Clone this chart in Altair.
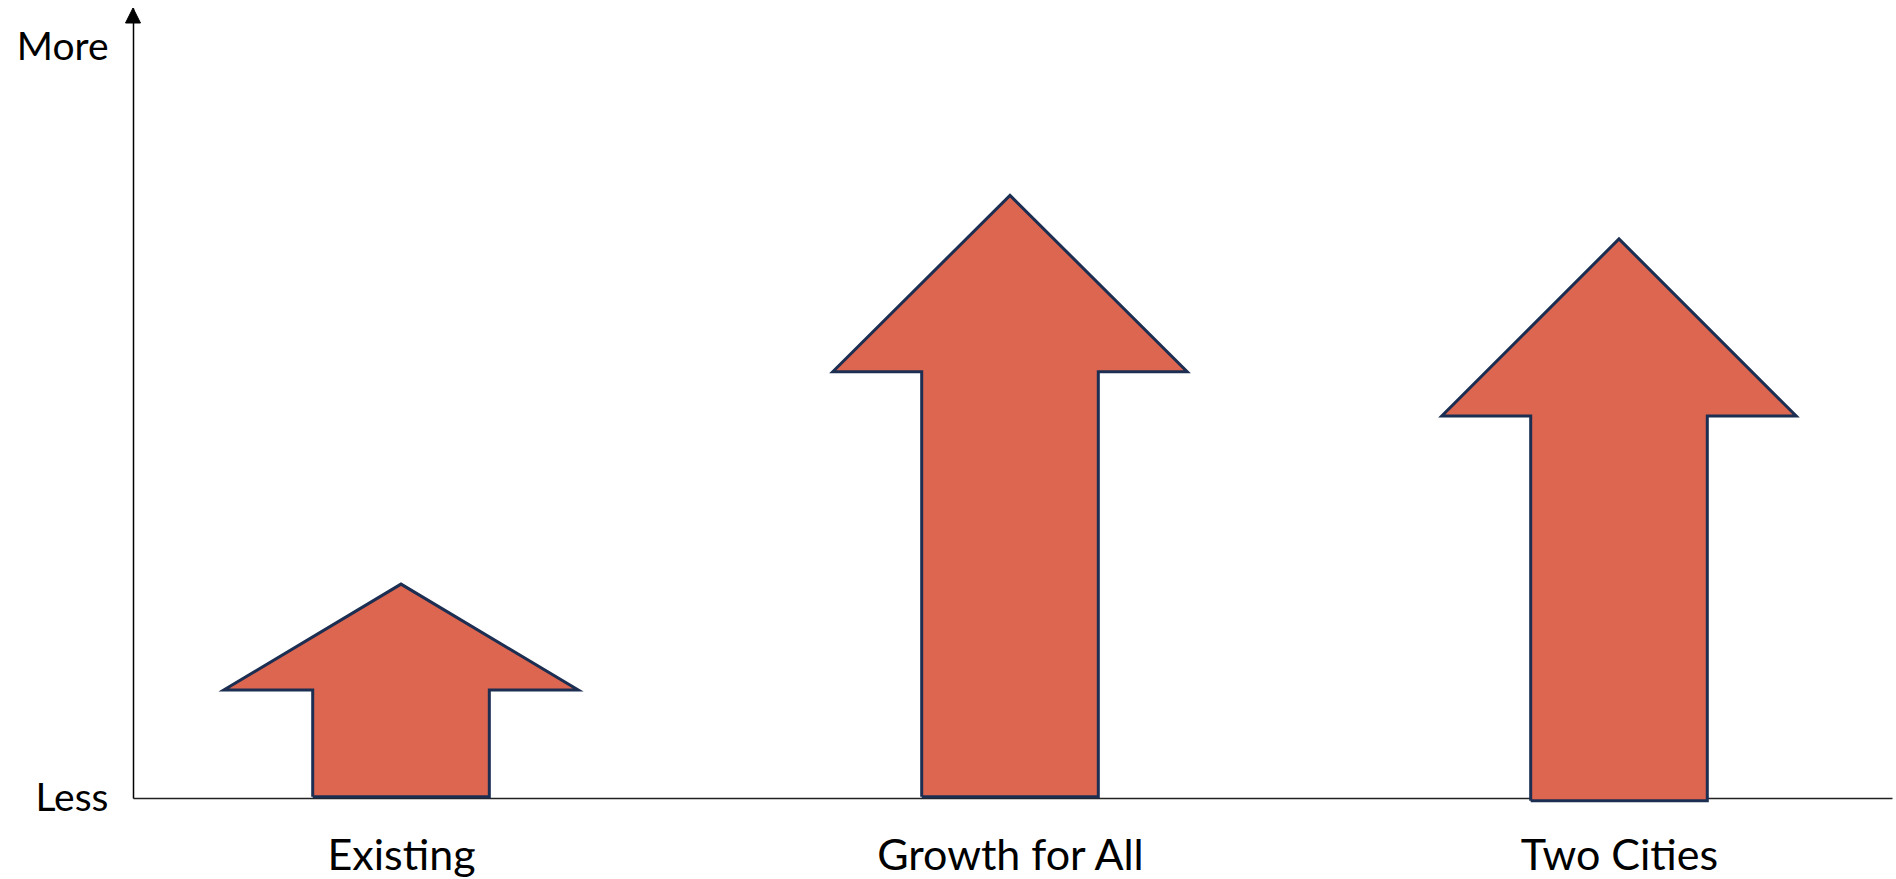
import json
import altair as alt
import pandas as pd

# ---- data ----
categories = ["Existing", "Growth for All", "Two Cities"]
tip_value = [28.5, 80.3, 74.5]        # top of each arrow
head_base_value = [14.4, 56.8, 50.9]  # where the arrow head meets the shaft
bottom_value = [0.15, 0.15, -0.35]    # bottom of each shaft
y_tick_values = [0, 100]
y_tick_labels = ["Less", "More"]

# ---- styling constants (shape of the arrows, in x-index units) ----
HEAD_HALF = 0.291
SHAFT_HALF = 0.145
X_DOMAIN = [-0.4401, 2.4483]
Y_DOMAIN = [0, 105.27]

rows = []
for i, (cat, tip, hb, bot) in enumerate(zip(categories, tip_value, head_base_value, bottom_value)):
    pts = [
        (i - SHAFT_HALF, bot),
        (i - SHAFT_HALF, hb),
        (i - HEAD_HALF, hb),
        (i, tip),
        (i + HEAD_HALF, hb),
        (i + SHAFT_HALF, hb),
        (i + SHAFT_HALF, bot),
        (i - SHAFT_HALF, bot),
    ]
    for k, (px, py) in enumerate(pts):
        rows.append({"cat": cat, "order": k, "x": px, "y": py})
arrows = pd.DataFrame(rows)

# arrow head on top of the y axis
ax_half = 0.0123
ymax = Y_DOMAIN[1]
ah_rows = [
    {"order": 0, "x": X_DOMAIN[0] - ax_half, "y": ymax - 2.0},
    {"order": 1, "x": X_DOMAIN[0], "y": ymax},
    {"order": 2, "x": X_DOMAIN[0] + ax_half, "y": ymax - 2.0},
    {"order": 3, "x": X_DOMAIN[0] - ax_half, "y": ymax - 2.0},
]
axis_head = pd.DataFrame(ah_rows)

x_label_expr = json.dumps(categories) + "[datum.value]"
y_label_expr = "datum.value == 0 ? " + json.dumps(y_tick_labels[0]) + " : " + json.dumps(y_tick_labels[1])

x_scale = alt.Scale(domain=X_DOMAIN, nice=False, zero=False)
y_scale = alt.Scale(domain=Y_DOMAIN, nice=False, zero=False)

x_axis = alt.Axis(
    values=[0, 1, 2], labelExpr=x_label_expr, title=None, ticks=False, grid=False,
    domainColor="#222222", domainWidth=1.5, labelFont="Lato", labelFontSize=43,
    labelColor="#000000", labelPadding=37, labelFlush=False, labelOverlap=False,
    labelLimit=0,
)
y_axis = alt.Axis(
    values=y_tick_values, labelExpr=y_label_expr, title=None, ticks=False, grid=False,
    domainColor="#000000", domainWidth=1.5, labelFont="Lato", labelFontSize=39,
    labelColor="#000000", labelPadding=25, labelOverlap=False, labelLimit=0,
)

arrow_layer = alt.Chart(arrows).mark_line(
    fill="#DC6650", stroke="#1C2E52", strokeWidth=3, strokeJoin="miter", interpolate="linear"
).encode(
    x=alt.X("x:Q", scale=x_scale, axis=x_axis),
    y=alt.Y("y:Q", scale=y_scale, axis=y_axis),
    detail="cat:N",
    order="order:Q",
)

head_layer = alt.Chart(axis_head).mark_line(
    fill="#000000", stroke="#000000", strokeWidth=1
).encode(
    x=alt.X("x:Q", scale=x_scale),
    y=alt.Y("y:Q", scale=y_scale),
    order="order:Q",
)

chart = alt.layer(arrow_layer, head_layer).properties(
    width=1759, height=790,
    autosize=alt.AutoSizeParams(type="none"),
    padding={"left": 133, "top": 8, "right": 4, "bottom": 81},
    background="#ffffff",
).configure_view(stroke=None)

chart.save("out.html", embed_options={"renderer": "svg", "actions": False})
